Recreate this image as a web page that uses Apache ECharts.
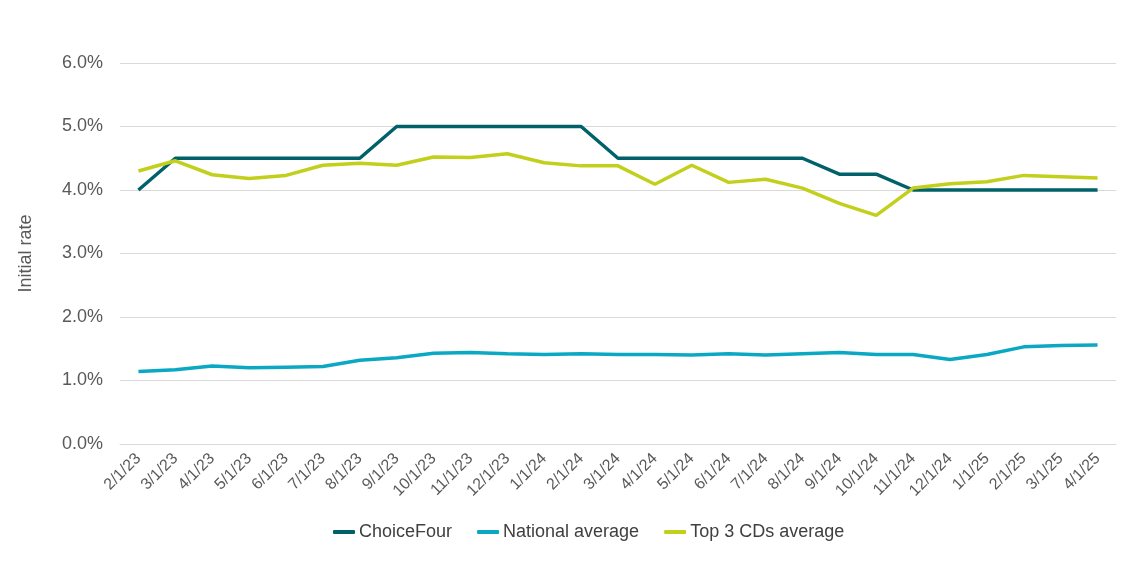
<!DOCTYPE html>
<html><head><meta charset="utf-8">
<script src="https://cdn.jsdelivr.net/npm/echarts@6/dist/echarts.min.js"></script>
<style>html,body{margin:0;padding:0;background:#fff}#c{width:1128px;height:581px}</style>
</head><body><div id="c"></div>
<script>
const categories = ['2/1/23','3/1/23','4/1/23','5/1/23','6/1/23','7/1/23','8/1/23','9/1/23','10/1/23','11/1/23','12/1/23','1/1/24','2/1/24','3/1/24','4/1/24','5/1/24','6/1/24','7/1/24','8/1/24','9/1/24','10/1/24','11/1/24','12/1/24','1/1/25','2/1/25','3/1/25','4/1/25'];
const choiceFour = [4.0,4.5,4.5,4.5,4.5,4.5,4.5,5.0,5.0,5.0,5.0,5.0,5.0,4.5,4.5,4.5,4.5,4.5,4.5,4.25,4.25,4.0,4.0,4.0,4.0,4.0,4.0];
const nationalAvg = [1.14,1.17,1.23,1.20,1.21,1.22,1.32,1.36,1.43,1.44,1.42,1.41,1.42,1.41,1.41,1.40,1.42,1.40,1.42,1.44,1.41,1.41,1.33,1.41,1.53,1.55,1.56];
const top3Avg = [4.30,4.46,4.24,4.18,4.23,4.39,4.42,4.39,4.52,4.51,4.57,4.43,4.38,4.38,4.09,4.39,4.12,4.17,4.03,3.79,3.60,4.03,4.10,4.13,4.23,4.21,4.19];
const yTicks = [0,1,2,3,4,5,6];

const chart = echarts.init(document.getElementById('c'));
const font = 'Liberation Sans, Arial, sans-serif';
chart.setOption({
  animation:false,
  textStyle:{fontFamily:font},
  grid:{left:120,right:12,top:63,bottom:137},
  legend:{top:523,left:333,padding:0,itemWidth:22,itemHeight:4,itemGap:25,icon:'roundRect',
    textStyle:{fontSize:18,color:'#404040',fontFamily:font,padding:[0,0,0,-1]},
    data:['ChoiceFour','National average','Top 3 CDs average']},
  xAxis:{type:'category',data:categories,boundaryGap:true,
    axisLine:{lineStyle:{color:'#d9d9d9'}},axisTick:{show:false},
    axisLabel:{rotate:45,interval:0,fontSize:16,color:'#595959',fontFamily:font,margin:12}},
  yAxis:{type:'value',min:yTicks[0],max:yTicks[yTicks.length-1],interval:1,
    name:'Initial rate',nameLocation:'middle',nameGap:85,nameRotate:90,
    nameTextStyle:{fontSize:18,color:'#595959',fontFamily:font},
    axisLine:{show:false},axisTick:{show:false},
    splitLine:{lineStyle:{color:'#d9d9d9',width:1}},
    axisLabel:{formatter:v=>v.toFixed(1)+'%',fontSize:18,color:'#595959',fontFamily:font,margin:17}},
  series:[
    {name:'ChoiceFour',type:'line',data:choiceFour,showSymbol:false,symbol:'none',lineStyle:{width:3.5,color:'#00616a'},itemStyle:{color:'#00616a'}},
    {name:'National average',type:'line',data:nationalAvg,showSymbol:false,symbol:'none',lineStyle:{width:3.5,color:'#0ba8c4'},itemStyle:{color:'#0ba8c4'}},
    {name:'Top 3 CDs average',type:'line',data:top3Avg,showSymbol:false,symbol:'none',lineStyle:{width:3.5,color:'#c2cf1b'},itemStyle:{color:'#c2cf1b'}}
  ]
});
</script></body></html>
